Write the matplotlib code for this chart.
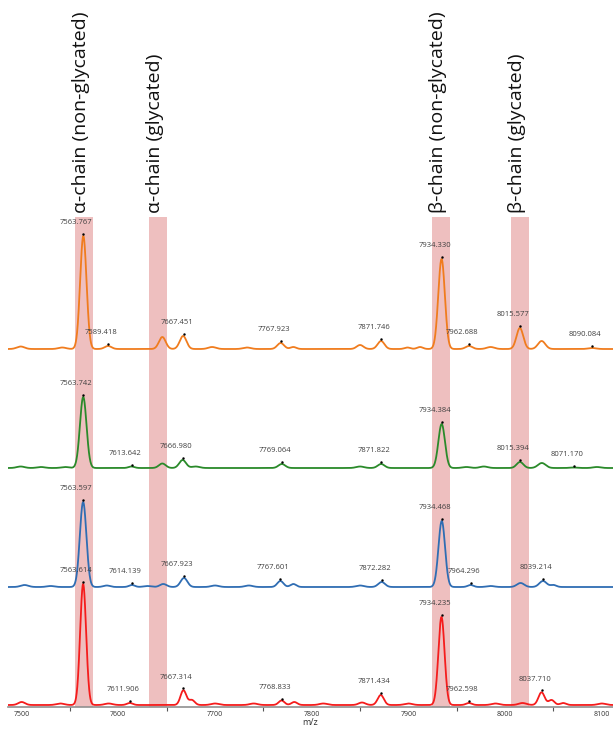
import numpy as np
import matplotlib
matplotlib.use('Agg')
import matplotlib.pyplot as plt
from matplotlib.ticker import MultipleLocator

plt.rcParams['font.family'] = ['Open Sans', 'DejaVu Sans']

# peaks: (m/z, height, width)
orange_peaks = [(7499, 2.5, 4), (7542, 1.5, 4), (7563.8, 113, 3.3), (7589.4, 3, 3.5),
                (7645.5, 12, 3.5), (7667.0, 13, 3.5), (7697, 2, 4), (7733, 1.5, 4),
                (7767.9, 6, 3.5), (7781, 2, 3), (7850, 4, 3.5), (7871.7, 8, 3.5),
                (7899, 1.5, 3), (7912, 2, 3), (7934.3, 90, 3.4), (7962.7, 3, 3.5),
                (7985, 2, 4), (8015.3, 21, 3.5), (8037.8, 8, 3.8), (8090, 1, 4)]
green_peaks = [(7499, 1.5, 4), (7520, 1, 4), (7545, 1, 4), (7563.7, 71, 3.4),
               (7613.6, 1.5, 3), (7645.5, 4.5, 3.5), (7666.5, 8, 3.5), (7680, 1.5, 4),
               (7769.1, 4, 3.5), (7850, 1.5, 4), (7871.8, 4, 3.5), (7934.4, 44, 3.4),
               (7960, 1, 4), (7978, 1.5, 4), (8015.4, 6, 3.5), (8038, 5, 4),
               (8071, 0.5, 4), (8095, 1, 4)]
blue_peaks = [(7503, 2, 4), (7530, 1, 4), (7563.6, 85, 3.4), (7588, 1.5, 3.5),
              (7614.1, 2, 3), (7630, 1, 4), (7646.5, 3, 3.5), (7667.9, 9, 3.5),
              (7700, 1.5, 4), (7735, 1.5, 4), (7767.6, 6, 3.2), (7781, 3, 3),
              (7850, 1.5, 4), (7872.3, 5, 3.5), (7934.5, 66, 3.4), (7964.3, 2, 3),
              (7985, 1, 4), (8016, 4, 3.8), (8039.2, 6, 3.8), (8050, 2, 3)]
red_peaks = [(7500, 3, 3.5), (7540, 1.5, 4), (7563.6, 121, 3.1), (7590, 1.5, 4),
             (7611.9, 2, 3), (7667.3, 14.7, 3.0), (7676, 5, 3), (7700, 1.5, 4),
             (7740, 1.5, 4), (7768.8, 4.5, 3), (7782, 3, 3), (7812, 1.5, 4),
             (7852, 2.5, 3.5), (7871.4, 10, 3.2), (7900, 1.5, 4), (7934.2, 88, 3.2),
             (7962.6, 2, 3), (7990, 1.5, 4), (8018, 2, 4), (8037.7, 12.7, 3.2),
             (8048, 5, 3), (8060, 2, 3), (8100, 1.5, 4)]

# labelled m/z values per trace
orange_labels = [7563.767, 7589.418, 7667.451, 7767.923, 7871.746, 7934.330,
                 7962.688, 8015.577, 8090.084]
green_labels = [7563.742, 7613.642, 7666.980, 7769.064, 7871.822, 7934.384,
                8015.394, 8071.170]
blue_labels = [7563.597, 7614.139, 7667.923, 7767.601, 7872.282, 7934.468,
               7964.296, 8039.214]
red_labels = [7563.614, 7611.906, 7667.314, 7768.833, 7871.434, 7934.235,
              7962.598, 8037.710]

# highlighted regions
band_names = ['α-chain (non-glycated)', 'α-chain (glycated)',
              'β-chain (non-glycated)', 'β-chain (glycated)']
band_lo = [7555.2, 7631.7, 7924.4, 8006.1]
band_hi = [7573.5, 7650.0, 7942.7, 8024.4]

traces = [(orange_peaks, orange_labels, '#f07c1e', 358),
          (green_peaks, green_labels, '#2a8a2a', 239),
          (blue_peaks, blue_labels, '#2f6db3', 120),
          (red_peaks, red_labels, '#f51c1c', 2)]

fig = plt.figure(figsize=(6.13, 7.31), dpi=100)
ax = fig.add_axes([8 / 613, 1 - 707 / 731, 605 / 613, 490 / 731])

mz = np.linspace(7480, 8120, 5000)

for lo, hi in zip(band_lo, band_hi):
    ax.axvspan(lo, hi, color='#eebfbf', lw=0, zorder=0)

for peaks, labels, col, off in traces:
    y = np.zeros_like(mz)
    for c, h, w in peaks:
        y += h * np.exp(-0.5 * ((mz - c) / w) ** 2)
    ax.plot(mz, y + off, color=col, lw=1.3, zorder=2)
    for m in labels:
        yy = np.interp(m, mz, y) + off + 2
        ax.plot(m, yy, 'k.', ms=1.5, zorder=3)
        t = ax.annotate(f'{m:.3f}', (m, yy), xytext=(-5, 8),
                        textcoords='offset points', ha='center', va='center',
                        fontsize=5.5, color='#404040', zorder=4)
        t.set_clip_on(True)
        t.set_clip_path(ax.patch)

for lo, hi, name in zip(band_lo, band_hi, band_names):
    ax.text((lo + hi) / 2 - 3, 1.008, name, transform=ax.get_xaxis_transform(),
            rotation=90, ha='center', va='bottom', fontsize=14, color='#111111')

ax.set_xlim(7485.9, 8111.6)
ax.set_ylim(0, 490)
ax.set_yticks([])
for s in ['top', 'right', 'left']:
    ax.spines[s].set_visible(False)
ax.spines['bottom'].set_color('#909090')
ax.spines['bottom'].set_linewidth(1.2)
ax.xaxis.set_major_locator(MultipleLocator(100))
ax.xaxis.set_minor_locator(MultipleLocator(50))
ax.tick_params(axis='x', which='major', length=0, pad=3, labelsize=5, labelcolor='#333333')
ax.tick_params(axis='x', which='minor', length=3, width=0.8, color='#555555')
ax.set_xlabel('m/z', fontsize=6.5, color='#333333', labelpad=0)

plt.savefig('out.png', dpi=100)
